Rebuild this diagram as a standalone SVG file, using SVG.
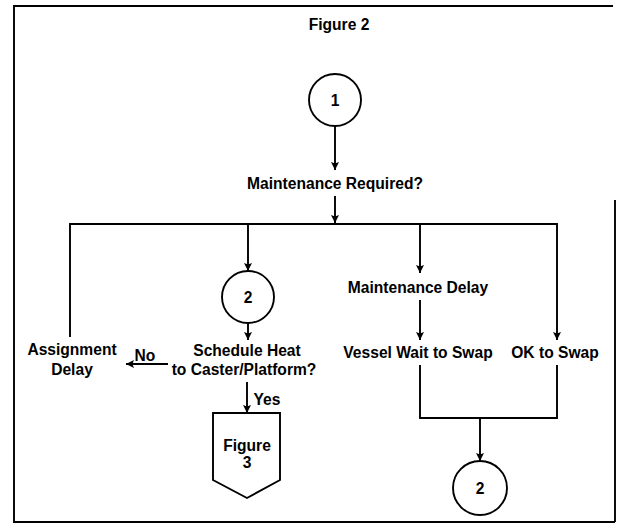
<svg xmlns="http://www.w3.org/2000/svg" width="618" height="528" viewBox="0 0 618 528">
<defs>
<style>
.t{font-family:"Liberation Sans",Arial,sans-serif;font-weight:bold;font-size:15.6px;fill:#000;text-anchor:middle}
.l{stroke:#000;stroke-width:1.9;fill:none}
.n{stroke:#000;stroke-width:1.9;fill:#fff}
</style>
<marker id="ah" viewBox="0 0 10 10" refX="10" refY="5" markerWidth="8" markerHeight="10" markerUnits="userSpaceOnUse" orient="auto">
<path d="M0,0 L10,5 L0,10 L2,5 Z" fill="#000"/>
</marker>
</defs>
<rect width="618" height="528" fill="#fff"/>
<g id="frame">
<path class="l" d="M613,6 L14,6 L14,522 L615,522"/>
<path class="l" d="M615,200 L615,522"/>
</g>
<g id="title"><text class="t" x="339" y="30">Figure 2</text></g>
<g id="connectors">
<path class="l" d="M335,126 V170" marker-end="url(#ah)"/>
<path class="l" d="M335,196 V223" marker-end="url(#ah)"/>
<path class="l" d="M70,337 V224 H557 V340" marker-end="url(#ah)"/>
<path class="l" d="M248,224 V271" marker-end="url(#ah)"/>
<path class="l" d="M420,224 V273" marker-end="url(#ah)"/>
<path class="l" d="M420,300 V340" marker-end="url(#ah)"/>
<path class="l" d="M248,323 V340" marker-end="url(#ah)"/>
<path class="l" d="M168,364 H126" marker-end="url(#ah)"/>
<path class="l" d="M247,382 V413" marker-end="url(#ah)"/>
<path class="l" d="M420,365 V418 H557 V365"/>
<path class="l" d="M480,418 V461" marker-end="url(#ah)"/>
</g>
<g id="start1"><circle class="n" cx="335" cy="100" r="26"/><text class="t" x="335" y="106">1</text></g>
<g id="maintReq"><text class="t" x="335" y="189">Maintenance Required?</text></g>
<g id="conn2a"><circle class="n" cx="248" cy="297" r="26"/><text class="t" x="248" y="303">2</text></g>
<g id="assignDelay"><text class="t" x="72" y="355">Assignment</text><text class="t" x="72" y="375">Delay</text></g>
<g id="noLabel"><text class="t" x="145" y="361">No</text></g>
<g id="schedule"><text class="t" x="247" y="356">Schedule Heat</text><text class="t" x="244" y="375">to Caster/Platform?</text></g>
<g id="yesLabel"><text class="t" x="267" y="405">Yes</text></g>
<g id="fig3"><path class="n" d="M213,413 H280 V480 L247,498 L213,480 Z"/><text class="t" x="247" y="451">Figure</text><text class="t" x="247" y="468">3</text></g>
<g id="maintDelay"><text class="t" x="418" y="293">Maintenance Delay</text></g>
<g id="vesselWait"><text class="t" x="418" y="358">Vessel Wait to Swap</text></g>
<g id="okSwap"><text class="t" x="555" y="358">OK to Swap</text></g>
<g id="conn2b"><circle class="n" cx="480" cy="488" r="27"/><text class="t" x="480" y="494">2</text></g>
</svg>
